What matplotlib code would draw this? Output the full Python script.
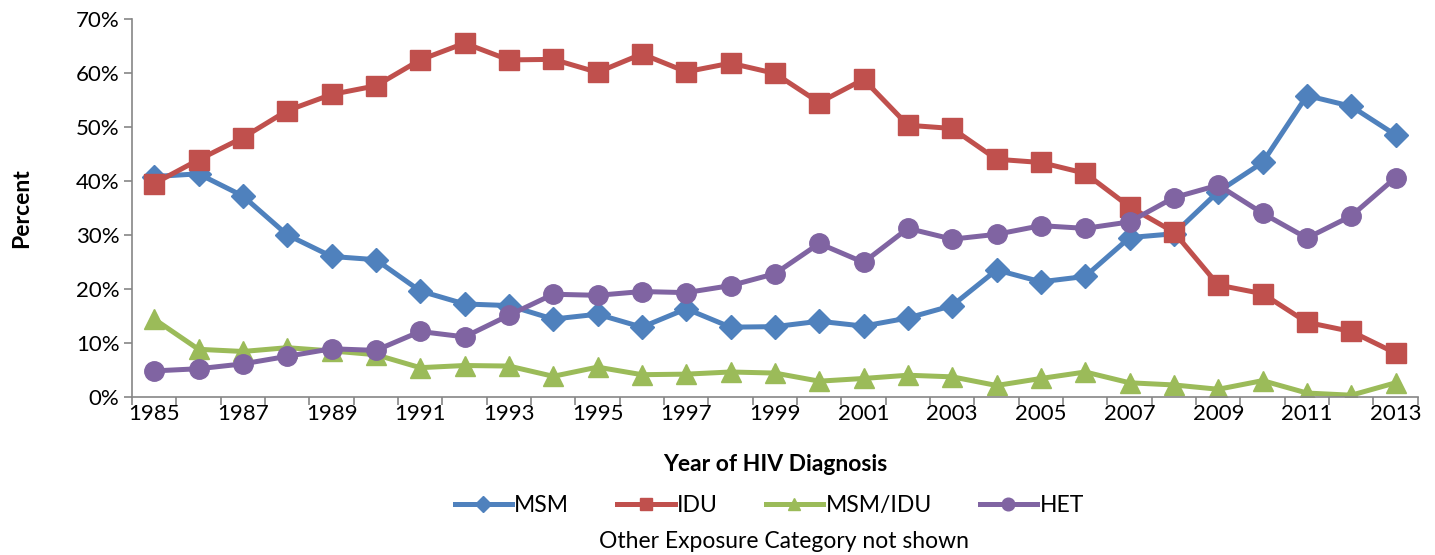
import numpy as np
import matplotlib
matplotlib.use("Agg")
import matplotlib.pyplot as plt
from matplotlib.ticker import FixedLocator, PercentFormatter

plt.rcParams['font.family'] = ['Lato', 'DejaVu Sans']

# Données (%)
years = list(range(1985, 2014))
msm = [40.8, 41.3, 37.2, 30.0, 26.0, 25.4, 19.6, 17.2, 16.9, 14.4, 15.3, 12.9, 16.3, 12.9, 13.0,
       14.0, 13.1, 14.6, 16.9, 23.5, 21.3, 22.3, 29.5, 30.2, 38.0, 43.4, 55.8, 53.8, 48.5]
idu = [39.5, 43.9, 48.0, 53.0, 56.0, 57.6, 62.4, 65.5, 62.4, 62.5, 60.1, 63.5, 60.2, 61.8, 59.9,
       54.5, 58.8, 50.3, 49.7, 44.0, 43.4, 41.4, 35.2, 30.5, 20.7, 19.1, 13.8, 12.1, 8.1]
msm_idu = [14.4, 8.8, 8.4, 9.1, 8.5, 7.8, 5.4, 5.8, 5.7, 3.8, 5.5, 4.1, 4.2, 4.6, 4.4,
           2.9, 3.4, 4.0, 3.7, 2.1, 3.4, 4.6, 2.6, 2.2, 1.4, 3.0, 0.7, 0.3, 2.6]
het = [4.8, 5.2, 6.1, 7.5, 8.9, 8.6, 12.1, 11.1, 15.1, 19.0, 18.8, 19.5, 19.3, 20.6, 22.8,
       28.4, 24.9, 31.2, 29.2, 30.1, 31.7, 31.2, 32.4, 36.9, 39.2, 34.0, 29.4, 33.5, 40.6]
labels = ["MSM", "IDU", "MSM/IDU", "HET"]

fig = plt.figure(figsize=(14.35, 5.55), dpi=100, facecolor='w')
ax = fig.add_axes([0.092, 0.285, 0.896, 0.681])

series = [
    (msm, '#4F81BD', 'D', 12),
    (idu, '#C0504D', 's', 14),
    (msm_idu, '#9BBB59', '^', 14),
    (het, '#8064A2', 'o', 14),
]
for (vals, col, mk, ms), lab in zip(series, labels):
    ax.plot(years, vals, color=col, lw=3.6, marker=mk, ms=ms, mec=col, mfc=col, label=lab)

fs = 16.5
fs_tick = 16

# Axes
ax.set_xlim(1984.5, 2013.5)
ax.set_ylim(0, 70)
ax.set_yticks(np.arange(0, 71, 10))
ax.yaxis.set_major_formatter(PercentFormatter(decimals=0))
ax.xaxis.set_major_locator(FixedLocator(np.arange(1984.5, 2014, 1)))
ax.xaxis.set_major_formatter(plt.NullFormatter())
ax.xaxis.set_minor_locator(FixedLocator(years[::2]))
ax.xaxis.set_minor_formatter(plt.FuncFormatter(lambda v, p: f"{int(round(v))}"))
ax.tick_params(axis='x', which='major', length=6, color='#868686', width=1.2)
ax.tick_params(axis='x', which='minor', length=0, labelsize=fs_tick, pad=5)
ax.tick_params(axis='y', length=6, color='#868686', width=1.2, labelsize=fs_tick, pad=3)

for s in ['top', 'right']:
    ax.spines[s].set_visible(False)
for s in ['left', 'bottom']:
    ax.spines[s].set_color('#868686')
    ax.spines[s].set_linewidth(1.2)

# Nom des axes
ax.set_ylabel("Percent", fontsize=fs, fontweight='bold')
ax.yaxis.set_label_coords(-0.0775, 0.5)
ax.set_xlabel("Year of HIV Diagnosis", fontsize=fs, fontweight='bold')
ax.xaxis.set_label_coords(0.5, -0.15)

fig.legend(loc='center', bbox_to_anchor=(0.536, 0.09), ncol=4, frameon=False,
           fontsize=fs, handlelength=2.5, columnspacing=2.1, handletextpad=0.1,
           markerscale=0.65)
fig.text(0.546, 0.025, "Other Exposure Category not shown", ha='center', va='center', fontsize=fs)

plt.savefig('out.png', dpi=100)
